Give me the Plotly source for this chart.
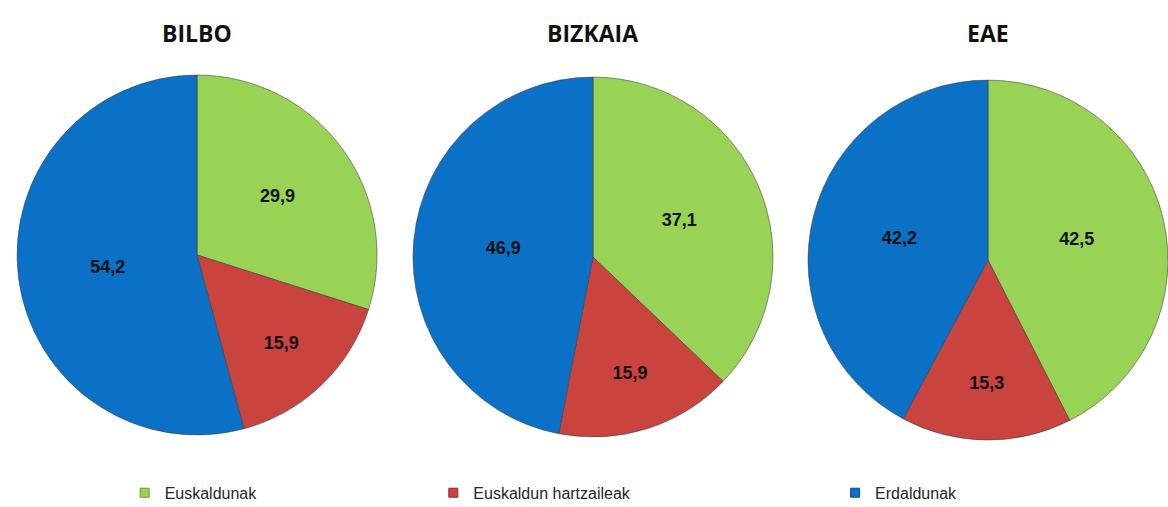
import plotly.graph_objects as go

regions = ["BILBO", "BIZKAIA", "EAE"]
categories = ["Euskaldunak", "Euskaldun hartzaileak", "Erdaldunak"]
bilbo_values = [29.9, 15.9, 54.2]
bizkaia_values = [37.1, 15.9, 46.9]
eae_values = [42.5, 15.3, 42.2]
series = [bilbo_values, bizkaia_values, eae_values]

colors = ["#98D355", "#C9433F", "#0A71C6"]
edge_colors = ["#6E9A3A", "#8E2B28", "#0A4F8A"]

domains = [
    dict(x=[0.0146, 0.3228], y=[0.142, 0.852]),
    dict(x=[0.3536, 0.6618], y=[0.138, 0.848]),
    dict(x=[0.6918, 1.0], y=[0.132, 0.842]),
]

fig = go.Figure()
for name, vals, dom in zip(regions, series, domains):
    fig.add_trace(go.Pie(
        labels=categories,
        values=vals,
        name=name,
        sort=False,
        direction="clockwise",
        rotation=0,
        domain=dom,
        marker=dict(colors=colors, line=dict(color="rgba(60,60,60,0.55)", width=1)),
        texttemplate="<b>%{value:.1f}</b>",
        textposition="inside",
        insidetextorientation="horizontal",
        textfont=dict(family="Liberation Sans, Arial", size=18, color="#111111"),
        showlegend=False,
        hoverinfo="label+value",
    ))

# legend entries (one legend per category, positioned like the original)
legend_names = ["legend", "legend2", "legend3"]
legend_x = [0.1067, 0.371, 0.715]
for cat, col, ecol, lg in zip(categories, colors, edge_colors, legend_names):
    fig.add_trace(go.Scatter(
        x=[None], y=[None], mode="markers", name=cat,
        marker=dict(symbol="square", size=9, color=col, line=dict(color=ecol, width=1)),
        legend=lg, showlegend=True,
    ))

legend_common = dict(orientation="h", yanchor="middle", y=0.028, xanchor="left",
                     font=dict(family="Liberation Sans, Arial", size=16, color="#262626"),
                     bgcolor="rgba(0,0,0,0)", itemwidth=30)
fig.update_layout(
    legend=dict(x=legend_x[0], **legend_common),
    legend2=dict(x=legend_x[1], **legend_common),
    legend3=dict(x=legend_x[2], **legend_common),
)

title_x = [0.1687, 0.5077, 0.8459]
for t, x in zip(regions, title_x):
    fig.add_annotation(text="<b>%s</b>" % t, x=x, y=0.935, xref="paper", yref="paper",
                       showarrow=False, xanchor="center", yanchor="middle",
                       font=dict(family="Open Sans, Liberation Sans", size=23, color="#111111"))

fig.update_layout(
    width=1168, height=507,
    margin=dict(l=0, r=0, t=0, b=0, autoexpand=False),
    paper_bgcolor="white", plot_bgcolor="white",
    separators=",.",
    xaxis=dict(visible=False), yaxis=dict(visible=False),
)

fig.write_html("out.html", config={"displayModeBar": False},
               post_script="document.body.style.margin='0';document.body.style.padding='0';")
